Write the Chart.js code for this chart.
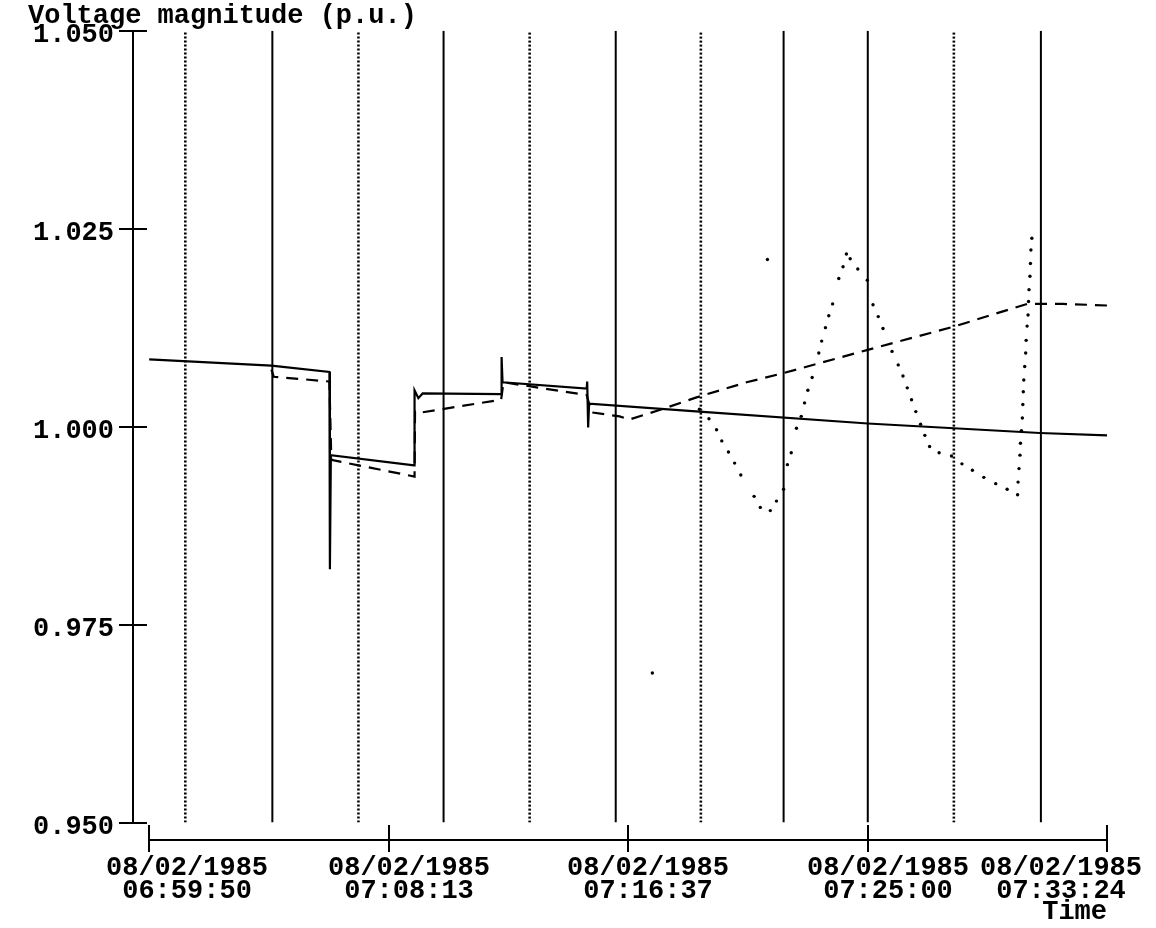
<!DOCTYPE html>
<html>
<head>
<meta charset="utf-8">
<script src="https://cdn.jsdelivr.net/npm/chart.js@4.4.1/dist/chart.umd.min.js"></script>
<style>
  html, body { margin: 0; padding: 0; background: #fff; }
  #wrap { width: 1156px; height: 928px; }
</style>
</head>
<body>
<div id="wrap"><canvas id="chart"></canvas></div>
<script>
// all times are seconds after 08/02/1985 06:59:50
var tickTimes = [0, 503.5, 1007, 1510.5, 2014];
var tickDates = ["08/02/1985", "08/02/1985", "08/02/1985", "08/02/1985", "08/02/1985"];
var tickClocks = ["06:59:50", "07:08:13", "07:16:37", "07:25:00", "07:33:24"];
var voltTicks = [0.950, 0.975, 1.000, 1.025, 1.050];

// event markers (switching instants)
var eventTimes = [76, 259, 440, 619, 800, 981, 1160, 1334, 1511, 1692, 1875];
var eventKinds = ["minor", "major", "minor", "major", "minor", "major", "minor", "major", "major", "minor", "major"];

// solid trace
var measTime = [0, 257, 379, 380, 382, 557, 558, 566, 575, 740, 741, 743, 920, 921, 923, 925, 1157, 1511, 1873, 2014];
var measVolt = [1.0085, 1.0077, 1.0069, 0.9820, 0.9964, 0.9951, 1.0046, 1.0036, 1.0042, 1.0041, 1.0088, 1.0056,
                1.0048, 1.0057, 0.9999, 1.0029, 1.0019, 1.0004, 0.9992, 0.9989];

// dashed trace
var estTime = [257, 262, 379, 383, 558, 559, 563, 740, 745, 920, 930, 989, 1010, 1073, 1151, 1256, 1336, 1511,
               1690, 1846, 1921, 2014];
var estVolt = [1.0072, 1.0063, 1.0057, 0.9958, 0.9937, 1.0019, 1.0017, 1.0034, 1.0056, 1.0040, 1.0018, 1.0013,
               1.0009, 1.0021, 1.0037, 1.0056, 1.0068, 1.0097, 1.0126, 1.0155, 1.0155, 1.0153];

// dotted trace (samples)
var simTime = [1058, 1157, 1177, 1193, 1204, 1218, 1231, 1244, 1272, 1285, 1300, 1306, 1319, 1334, 1342, 1350,
               1361, 1371, 1378, 1385, 1394, 1408, 1414, 1422, 1429, 1437, 1450, 1459, 1466, 1474, 1490, 1510,
               1522, 1533, 1543, 1562, 1575, 1585, 1594, 1603, 1612, 1622, 1631, 1641, 1661, 1687, 1709, 1731,
               1755, 1780, 1804, 1826, 1827, 1829, 1831, 1832, 1834, 1836, 1837, 1838, 1839, 1841, 1843, 1844,
               1846, 1848, 1849, 1850, 1852, 1853, 1854, 1856];
var simVolt = [0.9689, 1.0022, 1.0010, 0.9996, 0.9982, 0.9968, 0.9954, 0.9939, 0.9912, 0.9898, 1.0211, 0.9894,
               0.9906, 0.9921, 0.9952, 0.9967, 0.9998, 1.0013, 1.0030, 1.0046, 1.0062, 1.0093, 1.0108, 1.0125,
               1.0140, 1.0155, 1.0187, 1.0202, 1.0218, 1.0212, 1.0199, 1.0185, 1.0154, 1.0139, 1.0124, 1.0095,
               1.0078, 1.0064, 1.0049, 1.0034, 1.0019, 1.0003, 0.9989, 0.9975, 0.9967, 0.9963, 0.9953, 0.9945,
               0.9936, 0.9928, 0.9921, 0.9914, 0.9930, 0.9947, 0.9964, 0.9979, 0.9995, 1.0011, 1.0028, 1.0044,
               1.0059, 1.0076, 1.0093, 1.0109, 1.0127, 1.0141, 1.0158, 1.0173, 1.0190, 1.0206, 1.0223, 1.0238];

var FONT_FAMILY = '"Liberation Mono", "Courier New", monospace';
var FONT_SIZE = 27;
var INK = "#000";

function pairs(ts, vs) {
    return ts.map(function(t, i) { return { x: t, y: vs[i] }; });
}

var datasets = [];
datasets.push({
    data: pairs(measTime, measVolt),
    borderColor: INK, borderWidth: 2.2, pointRadius: 0, tension: 0
});
datasets.push({
    data: pairs(estTime, estVolt),
    borderColor: INK, borderWidth: 2.2, borderDash: [12, 8], pointRadius: 0, tension: 0
});
datasets.push({
    data: pairs(simTime, simVolt),
    showLine: false, pointRadius: 1.7, pointBorderWidth: 0,
    pointBackgroundColor: INK, borderColor: INK
});
eventTimes.forEach(function(t, i) {
    var minor = eventKinds[i] === "minor";
    datasets.push({
        data: [{ x: t, y: voltTicks[0] }, { x: t, y: voltTicks[voltTicks.length - 1] }],
        borderColor: INK,
        borderWidth: minor ? 2.6 : 2,
        borderDash: minor ? [2, 2] : [],
        pointRadius: 0
    });
});

// crossing tick marks on the voltage axis and the detached time axis below the plot
var axesPlugin = {
    id: "detachedAxes",
    afterDraw: function(chart) {
        var ctx = chart.ctx, xs = chart.scales.x, ys = chart.scales.y, area = chart.chartArea;
        ctx.save();
        ctx.strokeStyle = INK;
        ctx.lineWidth = 2;
        voltTicks.forEach(function(v) {
            var py = Math.round(ys.getPixelForValue(v));
            ctx.beginPath();
            ctx.moveTo(area.left - 14, py);
            ctx.lineTo(area.left + 14, py);
            ctx.stroke();
        });

        var base = Math.round(area.bottom + 17);
        var x0 = xs.getPixelForValue(tickTimes[0]);
        var x1 = xs.getPixelForValue(tickTimes[tickTimes.length - 1]);
        ctx.beginPath();
        ctx.moveTo(x0, base);
        ctx.lineTo(x1, base);
        ctx.stroke();

        ctx.fillStyle = INK;
        ctx.font = "bold " + FONT_SIZE + "px " + FONT_FAMILY;
        ctx.textAlign = "center";
        ctx.textBaseline = "middle";
        tickTimes.forEach(function(t, i) {
            var px = Math.round(xs.getPixelForValue(t));
            ctx.beginPath();
            ctx.moveTo(px, base - 15);
            ctx.lineTo(px, base + 12);
            ctx.stroke();
            var w = ctx.measureText(tickDates[i]).width;
            var cx = px + 20;
            cx = Math.max(cx, area.left - 27 + w / 2);
            cx = Math.min(cx, chart.width - 14 - w / 2);
            ctx.fillText(tickDates[i], cx, base + 28);
            ctx.fillText(tickClocks[i], cx, base + 51);
        });
        ctx.restore();
    }
};

Chart.defaults.font.family = FONT_FAMILY;
Chart.defaults.font.size = FONT_SIZE;
Chart.defaults.font.weight = "bold";
Chart.defaults.color = INK;

new Chart(document.getElementById("chart"), {
    type: "line",
    data: { datasets: datasets },
    plugins: [axesPlugin],
    options: {
        responsive: true,
        maintainAspectRatio: false,
        animation: false,
        events: [],
        layout: { padding: { left: 28, right: 49, top: 0, bottom: 0 } },
        plugins: {
            legend: { display: false },
            tooltip: { enabled: false },
            title: {
                display: true,
                text: "Voltage magnitude (p.u.)",
                align: "start",
                color: INK,
                font: { size: FONT_SIZE, weight: "bold", lineHeight: 1.1 },
                padding: { top: 1, bottom: 0 }
            }
        },
        scales: {
            x: {
                type: "linear",
                min: -34,
                max: 2014,
                grid: { display: false, drawTicks: false },
                border: { display: false },
                ticks: { display: false },
                title: {
                    display: true,
                    text: "Time",
                    align: "end",
                    color: INK,
                    font: { size: FONT_SIZE, weight: "bold", lineHeight: 1.2 },
                    padding: { top: 73, bottom: 0 }
                }
            },
            y: {
                type: "linear",
                min: voltTicks[0],
                max: voltTicks[voltTicks.length - 1],
                afterBuildTicks: function(scale) {
                    scale.ticks = voltTicks.map(function(v) { return { value: v }; });
                },
                grid: { display: false, drawTicks: true, tickLength: 14 },
                border: { display: true, color: INK, width: 2 },
                ticks: {
                    padding: 5,
                    labelOffset: 5,
                    color: INK,
                    callback: function(v) { return Number(v).toFixed(3); }
                }
            }
        }
    }
});
</script>
</body>
</html>
